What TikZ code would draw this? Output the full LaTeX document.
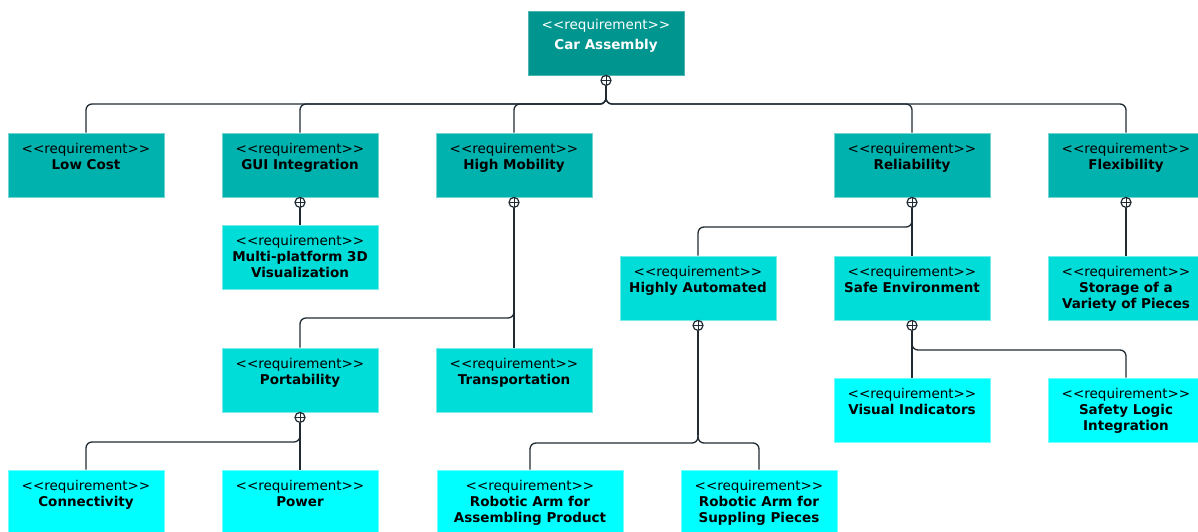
\documentclass[tikz,border=0pt]{standalone}
\usepackage{fontspec}
\setmainfont{DejaVu Sans}[Ligatures=TeXOff]
\usetikzlibrary{calc}

\definecolor{topfill}{HTML}{00968F}
\definecolor{midfill}{HTML}{00B2AE}
\definecolor{lowfill}{HTML}{00DDD8}
\definecolor{leaffill}{HTML}{00FFFF}
\definecolor{wire}{HTML}{1F2A33}

\tikzset{
  reqbox/.style={rectangle, minimum width=156pt, minimum height=64pt, inner sep=0pt, line width=0.8pt},
  toplevel/.style={reqbox, fill=topfill, draw=topfill!70!white},
  midlevel/.style={reqbox, fill=midfill, draw=midfill!55!white},
  lowlevel/.style={reqbox, fill=lowfill, draw=lowfill!55!white},
  leaflevel/.style={reqbox, fill=leaffill, draw=leaffill!55!white},
  reqtext/.style={anchor=north, align=center, inner sep=0pt, text=black,
    font=\fontsize{13.5}{16}\selectfont},
  toptext/.style={anchor=north, align=center, inner sep=0pt, text=white,
    font=\fontsize{13.5}{20}\selectfont},
  conn/.style={draw=wire, line width=1.3pt, rounded corners=6pt},
  owner/.style={circle, draw=wire, line width=1.2pt, minimum size=10pt, inner sep=0pt, fill=white,
    path picture={\draw[wire, line width=1pt]
      (path picture bounding box.north) -- (path picture bounding box.south)
      (path picture bounding box.west) -- (path picture bounding box.east);}},
}

% #1 name, #2 level style, #3 centre, #4 title lines, #5 box width
\newcommand\reqitem[5]{%
  \node[#2, minimum width=#5] (#1) at (#3) {};
  \node[reqtext, yshift=-10.3pt] (#1-label) at (#1.north) {<<requirement>>\\#4};
}

\begin{document}
\begin{tikzpicture}[x=1pt, y=-1pt]
  \clip (0,0) rectangle (1198,532);

  % root requirement
  \node[toplevel] (car) at (606,43) {};
  \node[toptext, yshift=-8.1pt] (car-label) at (car.north) {<<requirement>>\\\textbf{Car Assembly}};

  % first level
  \reqitem{lowcost}{midlevel}{86,165}{\textbf{Low Cost}}{156pt}
  \reqitem{gui}{midlevel}{300,165}{\textbf{GUI Integration}}{156pt}
  \reqitem{mobility}{midlevel}{514,165}{\textbf{High Mobility}}{156pt}
  \reqitem{reliab}{midlevel}{912,165}{\textbf{Reliability}}{156pt}
  \reqitem{flex}{midlevel}{1126,165}{\textbf{Flexibility}}{156pt}

  % second level
  \reqitem{multi}{lowlevel}{300,257}{\textbf{Multi-platform 3D}\\\textbf{Visualization}}{156pt}
  \reqitem{auto}{lowlevel}{698,288}{\textbf{Highly Automated}}{156pt}
  \reqitem{safe}{lowlevel}{912,288}{\textbf{Safe Environment}}{156pt}
  \reqitem{storage}{lowlevel}{1126,288}{\textbf{Storage of a}\\\textbf{Variety of Pieces}}{156pt}
  \reqitem{port}{lowlevel}{300,380}{\textbf{Portability}}{156pt}
  \reqitem{transp}{lowlevel}{514,380}{\textbf{Transportation}}{156pt}

  % leaves
  \reqitem{visual}{leaflevel}{912,410}{\textbf{Visual Indicators}}{156pt}
  \reqitem{safety}{leaflevel}{1126,410}{\textbf{Safety Logic}\\\textbf{Integration}}{156pt}
  \reqitem{connect}{leaflevel}{86,502}{\textbf{Connectivity}}{156pt}
  \reqitem{power}{leaflevel}{300,502}{\textbf{Power}}{156pt}
  \reqitem{armasm}{leaflevel}{530,502}{\textbf{Robotic Arm for}\\\textbf{Assembling Product}}{186pt}
  \reqitem{armsup}{leaflevel}{759,502}{\textbf{Robotic Arm for}\\\textbf{Suppling Pieces}}{156pt}

  % containment ends
  \foreach \p in {car, gui, mobility, reliab, flex, auto, safe, port}
    \node[owner] (\p-own) at ($(\p.south)+(0,5)$) {};

  % branching points, and a point just above each where the branch leaves the stem
  \coordinate (car-bus) at ($(car-own.south)+(0,18)$);
  \coordinate (mobility-bus) at ($(mobility-own.south)+(0,110)$);
  \coordinate (reliab-bus) at ($(reliab-own.south)+(0,19)$);
  \coordinate (auto-bus) at ($(auto-own.south)+(0,112)$);
  \coordinate (safe-bus) at ($(safe-own.south)+(0,19)$);
  \coordinate (port-bus) at ($(port-own.south)+(0,19)$);
  \foreach \b in {car, mobility, reliab, auto, safe, port}
    \coordinate (\b-stem) at ($(\b-bus)+(0,-8)$);

  % containment connectors
  \draw[conn] (car-own.south) -- (car-stem);
  \foreach \c in {lowcost, gui, mobility, reliab, flex}
    \draw[conn] (car-stem) -- (car-bus) -| (\c.north);
  \draw[conn] (gui-own.south) -- (multi.north);
  \draw[conn] (mobility-own.south) -- (transp.north);
  \draw[conn] (mobility-stem) -- (mobility-bus) -| (port.north);
  \draw[conn] (reliab-own.south) -- (safe.north);
  \draw[conn] (reliab-stem) -- (reliab-bus) -| (auto.north);
  \draw[conn] (flex-own.south) -- (storage.north);
  \draw[conn] (auto-own.south) -- (auto-stem);
  \draw[conn] (auto-stem) -- (auto-bus) -| (armasm.north);
  \draw[conn] (auto-stem) -- (auto-bus) -| (armsup.north);
  \draw[conn] (safe-own.south) -- (visual.north);
  \draw[conn] (safe-stem) -- (safe-bus) -| (safety.north);
  \draw[conn] (port-own.south) -- (power.north);
  \draw[conn] (port-stem) -- (port-bus) -| (connect.north);
\end{tikzpicture}
\end{document}
